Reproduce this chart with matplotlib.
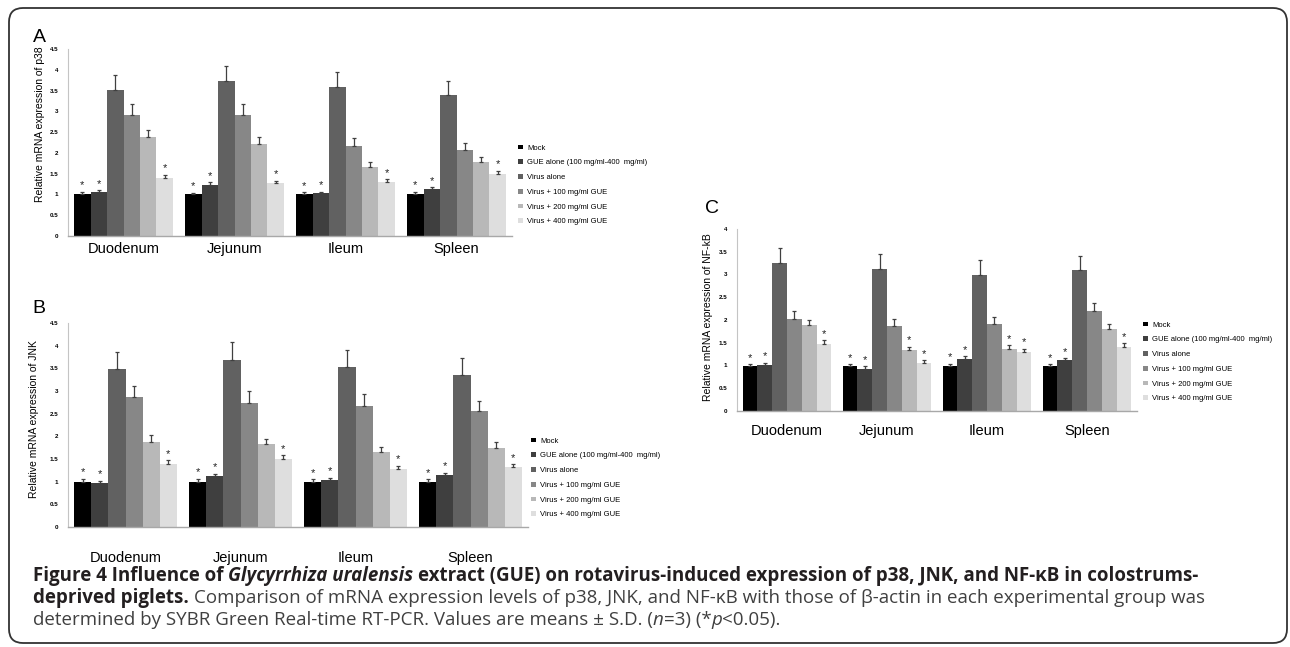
import numpy as np
import matplotlib
matplotlib.use('Agg')
import matplotlib.pyplot as plt
from matplotlib.patches import FancyBboxPatch
from matplotlib.font_manager import FontProperties

plt.rcParams['font.family'] = ['Liberation Sans', 'DejaVu Sans']

W, H = 1290, 647

organs = ['Duodenum', 'Jejunum', 'Ileum', 'Spleen']
groups = ['Mock', 'GUE alone (100 mg/ml-400  mg/ml)', 'Virus alone',
          'Virus + 100 mg/ml GUE', 'Virus + 200 mg/ml GUE', 'Virus + 400 mg/ml GUE']
colors = ['#000000', '#3f3f3f', '#616161', '#878787', '#b8b8b8', '#dedede']

# rows = groups (same order as `groups`), columns = organs
p38_mean = [[1.02, 1.00, 1.01, 1.02],
            [1.05, 1.23, 1.03, 1.12],
            [3.52, 3.72, 3.58, 3.40],
            [2.90, 2.90, 2.16, 2.08],
            [2.39, 2.21, 1.67, 1.78],
            [1.39, 1.27, 1.30, 1.49]]
p38_sd = [[0.04, 0.04, 0.04, 0.04],
          [0.05, 0.06, 0.04, 0.05],
          [0.35, 0.38, 0.37, 0.34],
          [0.27, 0.27, 0.19, 0.16],
          [0.16, 0.17, 0.11, 0.11],
          [0.08, 0.06, 0.07, 0.08]]
p38_sig = [[1, 1, 1, 1], [1, 1, 1, 1], [0, 0, 0, 0],
           [0, 0, 0, 0], [0, 0, 0, 0], [1, 1, 1, 1]]

jnk_mean = [[1.00, 1.00, 1.00, 1.00],
            [0.97, 1.12, 1.04, 1.15],
            [3.49, 3.69, 3.54, 3.36],
            [2.86, 2.74, 2.68, 2.55],
            [1.88, 1.82, 1.65, 1.74],
            [1.39, 1.49, 1.27, 1.32]]
jnk_sd = [[0.06, 0.06, 0.05, 0.05],
          [0.05, 0.06, 0.05, 0.05],
          [0.37, 0.38, 0.37, 0.36],
          [0.26, 0.25, 0.25, 0.24],
          [0.14, 0.12, 0.11, 0.13],
          [0.08, 0.09, 0.08, 0.07]]
jnk_sig = [[1, 1, 1, 1], [1, 1, 1, 1], [0, 0, 0, 0],
           [0, 0, 0, 0], [0, 0, 0, 0], [1, 1, 1, 1]]

nfkb_mean = [[1.00, 1.00, 1.00, 1.00],
             [1.01, 0.92, 1.14, 1.11],
             [3.25, 3.13, 3.00, 3.10],
             [2.02, 1.87, 1.92, 2.20],
             [1.89, 1.33, 1.37, 1.80],
             [1.47, 1.05, 1.29, 1.41]]
nfkb_sd = [[0.03, 0.03, 0.04, 0.03],
           [0.05, 0.06, 0.06, 0.05],
           [0.33, 0.31, 0.31, 0.30],
           [0.17, 0.15, 0.14, 0.18],
           [0.11, 0.08, 0.08, 0.11],
           [0.09, 0.06, 0.08, 0.08]]
nfkb_sig = [[1, 1, 1, 1], [1, 1, 1, 1], [0, 0, 0, 0],
            [0, 0, 0, 0], [0, 1, 1, 0], [1, 1, 1, 1]]

fig = plt.figure(figsize=(W / 100, H / 100), dpi=100)


def px_axes(left, top, right, bottom):
    return fig.add_axes([left / W, 1 - bottom / H, (right - left) / W, (bottom - top) / H])


def panel(box, mean, sd, sig, ymax, ylab, ylab_xy, letter, letter_xy, leg_xy, xpad):
    ax = px_axes(*box)
    x = np.arange(len(organs))
    bw = 0.148
    for i in range(len(groups)):
        m = np.array(mean[i]); s = np.array(sd[i])
        xi = x + (i - 2.5) * bw
        ax.bar(xi, m, bw, color=colors[i], label=groups[i], zorder=2)
        ax.errorbar(xi, m, yerr=[np.zeros_like(s), s], fmt='none', ecolor='#404040',
                    elinewidth=0.9, capsize=1.6, capthick=0.9, zorder=3)
        for xx, mm, ss, flag in zip(xi, m, s, sig[i]):
            if flag:
                ax.annotate('*', (xx, mm + ss), xytext=(0, 1), textcoords='offset points',
                            ha='center', va='bottom', fontsize=8, color='#222222')
    ax.set_xlim(-0.5, 3.5)
    ax.set_ylim(0, ymax)
    yt = np.arange(0, ymax + 0.01, 0.5)
    ax.set_yticks(yt)
    ax.set_yticklabels([f'{v:g}' for v in yt], fontsize=4.5, fontweight='bold')
    ax.set_xticks(x)
    ax.set_xticklabels(organs, fontsize=10.5)
    ax.tick_params(axis='y', length=0, pad=7)
    ax.tick_params(axis='x', length=0, pad=xpad)
    for sp in ['top', 'right']:
        ax.spines[sp].set_visible(False)
    ax.spines['left'].set_color('#c4c4c4')
    ax.spines['left'].set_linewidth(0.8)
    ax.spines['bottom'].set_color('#a8a8a8')
    ax.spines['bottom'].set_linewidth(1.0)
    fig.text(ylab_xy[0] / W, 1 - ylab_xy[1] / H, ylab, rotation=90, ha='center', va='center',
             fontsize=7.5)
    fig.text(letter_xy[0] / W, 1 - letter_xy[1] / H, letter, ha='left', va='baseline', fontsize=14)
    ax.legend(loc='upper left', bbox_to_anchor=(leg_xy[0] / W, 1 - leg_xy[1] / H),
              bbox_transform=fig.transFigure, frameon=False, fontsize=5.5,
              handlelength=0.6, handleheight=0.6, handletextpad=0.6,
              labelspacing=1.0, borderpad=0, borderaxespad=0)
    return ax


panel((68, 49, 512, 236), p38_mean, p38_sd, p38_sig, 4.5,
      'Relative mRNA expression of p38', (40, 124), 'A', (33, 42), (518, 144.5), 4.3)
panel((68, 323, 528, 527), jnk_mean, jnk_sd, jnk_sig, 4.5,
      'Relative mRNA expression of JNK', (34, 419), 'B', (32, 313), (531, 437.5), 17)
panel((737, 229, 1137, 411), nfkb_mean, nfkb_sd, nfkb_sig, 4.0,
      'Relative mRNA expression of NF-kB', (708, 317), 'C', (705, 213), (1143, 321.5), 9.5)

# rounded frame around the whole figure
frame = FancyBboxPatch((9, H - 643), 1278, 635, boxstyle='round,pad=0,rounding_size=14',
                       transform=None, fill=False, lw=1.3, ec='#333333')
fig.add_artist(frame)

# caption, drawn piece by piece so bold / italic runs line up
cap_family = ['Open Sans', 'DejaVu Sans']
BOLD = '#231f20'
REG = '#404040'
line1 = [('Figure 4 Influence of', 'bold', 'normal', BOLD, False),
         ('Glycyrrhiza uralensis', 'bold', 'italic', BOLD, True),
         ('extract (GUE) on rotavirus-induced expression of p38, JNK, and NF-\u03baB in colostrums-',
          'bold', 'normal', BOLD, True)]
line2 = [('deprived piglets.', 'bold', 'normal', BOLD, False),
         ('Comparison of mRNA expression levels of p38, JNK, and NF-\u03baB with those of '
          '\u03b2-actin in each experimental group was', 'normal', 'normal', REG, True)]
line3 = [('determined by SYBR Green Real-time RT-PCR. Values are means \u00b1 S.D. (',
          'normal', 'normal', REG, False),
         ('n', 'normal', 'italic', REG, False),
         ('=3) (*', 'normal', 'normal', REG, False),
         ('p', 'normal', 'italic', REG, False),
         ('<0.05).', 'normal', 'normal', REG, False)]

renderer = fig.canvas.get_renderer()


def space_width(fp):
    w1, _, _ = renderer.get_text_width_height_descent('a a', fp, ismath=False)
    w2, _, _ = renderer.get_text_width_height_descent('aa', fp, ismath=False)
    return w1 - w2


def run_width(runs, size):
    total = 0
    for txt, wt, st, col, sp in runs:
        fp = FontProperties(family=cap_family, weight=wt, style=st, size=size)
        w, _, _ = renderer.get_text_width_height_descent(txt, fp, ismath=False)
        total += w + (space_width(fp) if sp else 0)
    return total


base = 10.0
size = base * (1200 - 33) / run_width(line1, base)


def draw_line(runs, x0, ybase):
    x = x0
    for txt, wt, st, col, sp in runs:
        fp = FontProperties(family=cap_family, weight=wt, style=st, size=size)
        if sp:
            x += space_width(fp)
        t = fig.text(x / W, 1 - ybase / H, txt, fontproperties=fp, color=col,
                     ha='left', va='baseline')
        x = t.get_window_extent(renderer).x1


draw_line(line1, 33, 581)
draw_line(line2, 33, 603)
draw_line(line3, 33, 625)

fig.savefig('out.png', dpi=100)
